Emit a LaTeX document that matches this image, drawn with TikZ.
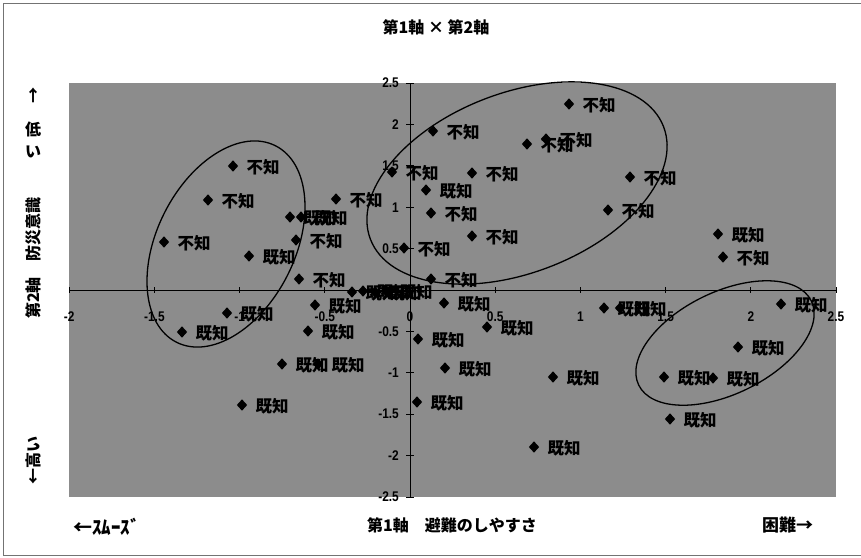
\documentclass[tikz,border=0pt]{standalone}
\usepackage{fontspec}
\newfontfamily\jp{Noto Sans CJK JP}
\newfontfamily\numf{Liberation Sans}[FakeStretch=0.85]
\usetikzlibrary{shapes.geometric}
\definecolor{plotbg}{gray}{0.55}
\definecolor{framec}{gray}{0.45}
\begin{document}
\begin{tikzpicture}[x=1pt,y=-1pt,
  mk/.style={diamond,fill=black,inner sep=0pt,minimum width=10.5pt,minimum height=11.5pt},
  lb/.style={font=\jp\bfseries\fontsize{16.5}{16.5}\selectfont,inner sep=0pt,anchor=west},
  tk/.style={font=\numf\bfseries\fontsize{14}{14}\selectfont,inner sep=0pt},
  ax/.style={font=\jp\bfseries\fontsize{16}{16}\selectfont,inner sep=0pt},
  ell/.style={draw=black,line width=1.3pt},
  axisline/.style={draw=black,line width=0.9pt},
]
\useasboundingbox (0,0) rectangle (861,557);
% outer frame
\draw[framec,line width=0.8pt] (3,3) -- (3,555) -- (861,555);
\draw[framec,line width=0.8pt] (3,3) -- (861,3);
% plot area
\fill[plotbg] (69,83) rectangle (836,497);
% axes
\coordinate (xl) at (69,290);
\coordinate (xr) at (836,290);
\coordinate (yt) at (410,83);
\coordinate (yb) at (410,497);
\draw[axisline] (xl) -- (xr);
\draw[axisline] (yt) -- (yb);
% ticks and tick labels
\foreach \v/\t [count=\k] in {-2/-2,-1.5/-1.5,-1/-1,-0.5/-0.5,0/0,0.5/0.5,1/1,1.5/1.5,2/2,2.5/2.5}{
  \draw[black,line width=0.7pt] ({410+170.4*\v},287) -- ({410+170.4*\v},293);
  \node[tk] (tx\k) at ({410+170.4*\v},317) {\t};
}
\foreach \v/\t [count=\k] in {2.5/2.5,2/2,1.5/1.5,1/1,0.5/0.5,-0.5/-0.5,-1/-1,-1.5/-1.5,-2/-2,-2.5/-2.5}{
  \draw[black,line width=0.7pt] (406,{290-82.8*\v}) -- (414,{290-82.8*\v});
  \node[tk,anchor=east] (ty\k) at (399,{290-82.8*\v}) {\t};
}
% data points
\foreach \i/\px/\py in {1/233/166,2/208/200,3/164/242,4/249/256,5/182/332,6/227/313,
  7/336/199,8/290/217,9/301/217,10/296/240,11/299/279,12/315/305,13/308/331,14/282/364,15/318/364,16/242/405,
  17/352/292,18/363/291,19/375/292,20/386/291,
  21/433/131,22/392/172,23/472/173,24/426/190,25/431/213,26/472/236,27/404/248,28/431/279,29/569/104,30/527/144,31/546/139,32/630/177,33/608/210,
  34/718/234,35/723/257,36/781/304,37/738/347,38/664/377,39/713/378,40/670/419,41/604/308,42/620/308,
  43/444/303,44/487/327,45/418/339,46/445/368,47/417/402,48/553/377,49/534/447}{
  \node[mk] (p\i) at (\px,\py) {};
}
\foreach \i/\t in {1/不知,2/不知,3/不知,4/既知,5/既知,6/既知,
  7/不知,8/既知,9/既知,10/不知,11/不知,12/既知,13/既知,14/既知,15/既知,16/既知,
  17/既知,18/既知,19/既知,20/既知,
  21/不知,22/不知,23/不知,24/既知,25/不知,26/不知,27/不知,28/不知,29/不知,30/不知,31/不知,32/不知,33/不知,
  34/既知,35/不知,36/既知,37/既知,38/既知,39/既知,40/既知,41/既知,42/既知,
  43/既知,44/既知,45/既知,46/既知,47/既知,48/既知,49/既知}{
  \node[lb] (l\i) at ([xshift=8pt,yshift=-1pt]p\i.east) {\t};
}
% ellipses
\coordinate (e1) at (226,244);
\coordinate (e2) at (517,183);
\coordinate (e3) at (725,343);
\draw[ell,rotate around={63.3:(e1)}] (e1) ellipse [x radius=110pt,y radius=69pt];
\draw[ell,rotate around={21:(e2)}] (e2) ellipse [x radius=157pt,y radius=90pt];
\draw[ell,rotate around={26:(e3)}] (e3) ellipse [x radius=96pt,y radius=51pt];
% titles
\node[ax] (title) at (436,27) {第1軸 × 第2軸};
\node[ax,anchor=west,font=\jp\bfseries\fontsize{19}{19}\selectfont] (smooth) at (73,527) {←ｽﾑｰｽﾞ};
\node[ax] (xtitle) at (452,525) {第1軸　避難のしやすさ};
\node[ax,anchor=west,font=\jp\bfseries\fontsize{17}{17}\selectfont] (hard) at (762,525) {困難→};
\node[ax] (up) at (33,95) {↑};
\node[ax] (low1) at (33,129) {低};
\node[ax] (low2) at (33,152) {い};
\node[ax,rotate=90] (ytitle) at (33,258) {第2軸　防災意識};
\node[ax,rotate=90] (high) at (33,460) {←高い};
\end{tikzpicture}
\end{document}
